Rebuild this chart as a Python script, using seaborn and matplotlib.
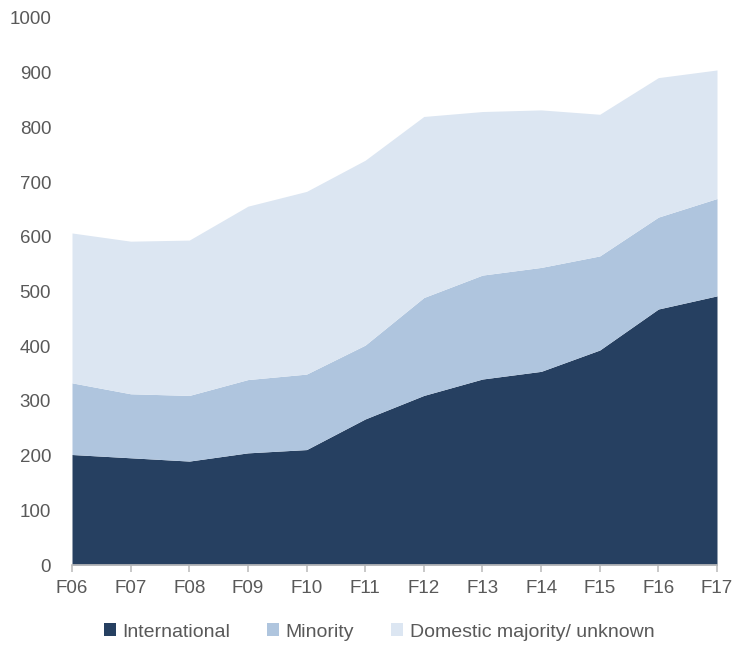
import matplotlib.pyplot as plt
import numpy as np
import seaborn as sns
from matplotlib.patches import Patch

years = ['F06', 'F07', 'F08', 'F09', 'F10', 'F11',
         'F12', 'F13', 'F14', 'F15', 'F16', 'F17']
international = [202, 196, 190, 205, 211, 267, 310, 340, 354, 393, 468, 492]
minority = [131, 117, 120, 134, 138, 135, 179, 190, 190, 172, 168, 178]
domestic = [274, 279, 284, 317, 334, 338, 331, 299, 288, 259, 255, 235]

series_names = ['International', 'Minority', 'Domestic majority/ unknown']
colors = ['#264061', '#AFC5DE', '#DCE6F2']

sns.set_theme(style='white')
plt.rcParams['font.family'] = ['Liberation Sans', 'DejaVu Sans']


def main():
    fig = plt.figure(figsize=(7.32, 6.45), dpi=100)
    ax = fig.add_axes([72 / 732, 1 - 565 / 645, 645 / 732, 547 / 645])

    x = np.arange(len(years))
    ax.stackplot(x, international, minority, domestic,
                 colors=colors, linewidth=0)

    ax.set_xlim(0, len(years) - 1)
    ax.set_ylim(0, 1000)
    ax.set_xticks(x)
    ax.set_xticklabels(years)
    ax.set_yticks(range(0, 1001, 100))

    for side in ['left', 'right', 'top']:
        ax.spines[side].set_visible(False)
    ax.spines['bottom'].set_color('#BFBFBF')
    ax.spines['bottom'].set_linewidth(1.2)
    ax.spines['bottom'].set_zorder(5)

    ax.tick_params(axis='x', colors='#BFBFBF', direction='out', length=5,
                   width=1.2, bottom=True, labelcolor='#595959',
                   labelsize=13.5, pad=6)
    ax.tick_params(axis='y', left=False, labelcolor='#595959',
                   labelsize=13.5, pad=9)

    handles = [Patch(facecolor=c, edgecolor='none') for c in colors]
    fig.legend(handles, series_names, loc='center',
               bbox_to_anchor=(0.518, 1 - 632 / 645), ncol=3, frameon=False,
               fontsize=14, handlelength=0.6, handleheight=0.6,
               handletextpad=0.35, columnspacing=1.9,
               labelcolor='#595959')

    fig.savefig('out.png', dpi=100)


if __name__ == '__main__':
    main()
